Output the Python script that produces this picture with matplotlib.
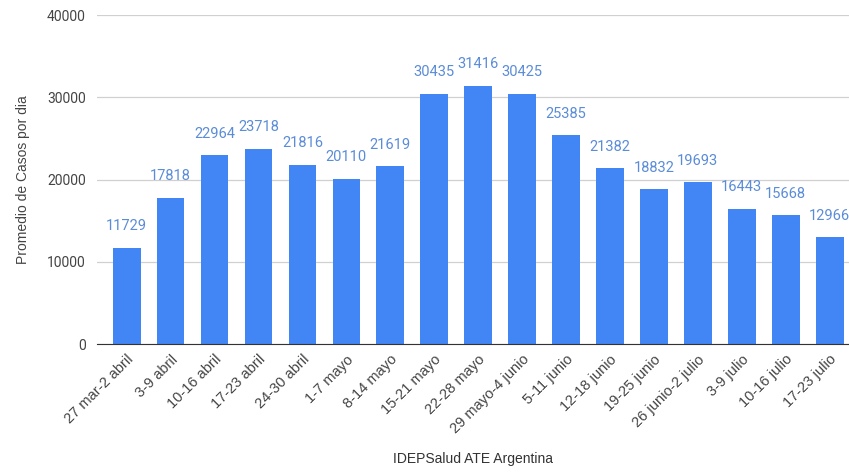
import matplotlib.pyplot as plt

# Weekly average of cases per day
weeks = ["27 mar-2 abril", "3-9 abril", "10-16 abril", "17-23 abril",
         "24-30 abril", "1-7 mayo", "8-14 mayo", "15-21 mayo", "22-28 mayo",
         "29 mayo-4 junio", "5-11 junio", "12-18 junio", "19-25 junio",
         "26 junio-2 julio", "3-9 julio", "10-16 julio", "17-23 julio"]
cases = [11729, 17818, 22964, 23718, 21816, 20110, 21619, 30435, 31416,
         30425, 25385, 21382, 18832, 19693, 16443, 15668, 12966]
yticks = [0, 10000, 20000, 30000, 40000]

plt.rcParams['font.family'] = ['Roboto', 'DejaVu Sans']

fig = plt.figure(figsize=(8.49, 4.72), dpi=100)
ax = fig.add_axes([0.114, 0.271, 0.886, 0.697])

x = range(len(weeks))
ax.bar(x, cases, width=0.63, color="#4285F4", zorder=3)

for i, v in zip(x, cases):
    ax.annotate(str(v), (i, v), xytext=(0, 15.5), textcoords="offset points",
                ha="center", va="center", fontsize=10.5, color="#5b8cd8")

ax.set_ylim(0, 40000)
ax.set_xlim(-0.68, 16.44)
ax.set_yticks(yticks)
ax.set_yticklabels([str(t) for t in yticks], fontsize=10, color="#444444")
ax.set_xticks(list(x))
ax.set_xticklabels(weeks, rotation=45, ha="right", rotation_mode="anchor",
                   fontsize=10.5, color="#444444", family="Liberation Sans")
ax.tick_params(axis="both", length=0)
ax.tick_params(axis="y", pad=8)
ax.tick_params(axis="x", pad=6)

ax.grid(axis="y", color="#d0d0d0", linewidth=0.9, zorder=0)
for s in ["top", "right", "left"]:
    ax.spines[s].set_visible(False)
ax.spines["bottom"].set_color("#333333")
ax.spines["bottom"].set_zorder(4)

ax.set_ylabel("Promedio de Casos por dia", fontsize=10, color="#444444",
              family="Liberation Sans", labelpad=12)
ax.set_xlabel("IDEPSalud ATE Argentina", fontsize=10, color="#333333",
              family="Liberation Sans", labelpad=11)

fig.savefig("out.png", dpi=100)
